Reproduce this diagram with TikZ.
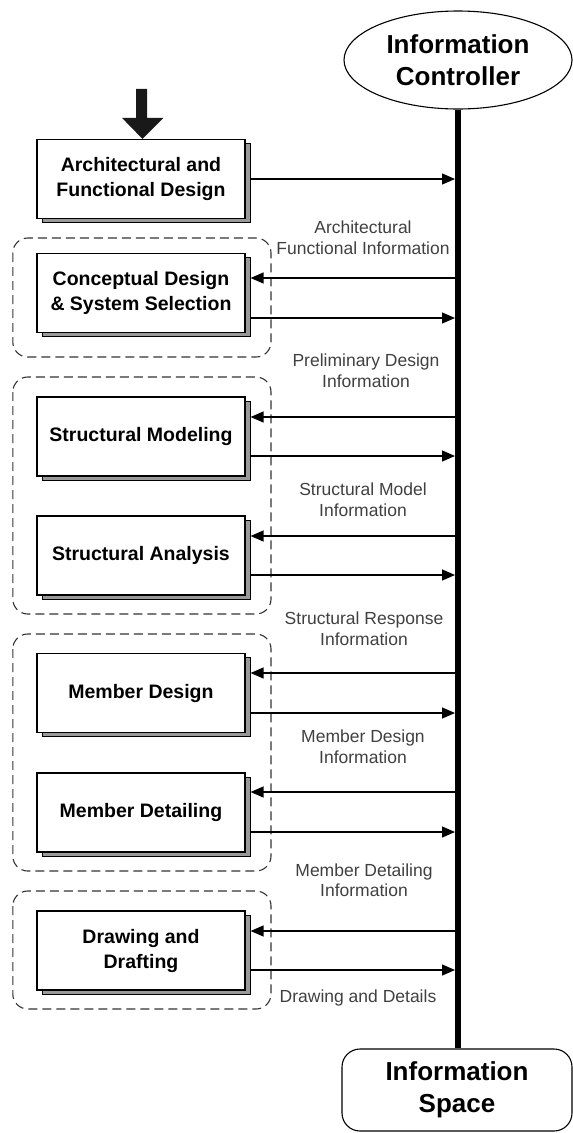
\documentclass[tikz,border=0pt]{standalone}
\usepackage{fontspec}
\setmainfont{Liberation Sans}
\usetikzlibrary{shapes.geometric,arrows.meta,shadows}

\tikzset{
  stepbox/.style={draw=black, line width=1.2pt, fill=white,
    minimum width=208pt, minimum height=79pt, inner sep=0pt, align=center,
    font=\bfseries\fontsize{19.5}{25}\selectfont,
    general shadow={shadow xshift=5pt, shadow yshift=-4pt,
      fill=black!40, draw=black, line width=1pt}},
  infolabel/.style={align=center, text=black!75, inner sep=0pt,
    font=\fontsize{17.5}{20.5}\selectfont},
  flow/.style={line width=1.3pt, -{Triangle[length=13pt,width=11pt]}},
  group/.style={draw=black!80, line width=1.1pt, rounded corners=15pt,
    dash pattern=on 9pt off 5pt},
  endpoint/.style={draw=black, line width=1.1pt, align=center, inner sep=0pt,
    font=\bfseries\fontsize{26}{32}\selectfont}
}

\begin{document}
\begin{tikzpicture}[x=1pt,y=-1pt]
\useasboundingbox (0,0) rectangle (573,1133);

% controller, store and the information bus between them
\node[endpoint, ellipse, minimum width=228pt, minimum height=98pt] (ic) at (458,60)
  {Information\\Controller};
\node[endpoint, rounded corners=18pt, minimum width=230pt, minimum height=82pt] (is) at (457,1090)
  {Information\\Space};
\draw[line width=6pt] (ic.south) -- (ic.south |- is.north);
\coordinate (bus) at (455,0);

% dashed groups of related tasks
\draw[group] (12.8,238) rectangle (271,357);
\draw[group] (12.8,377) rectangle (271,614);
\draw[group] (12.8,634) rectangle (271,871);
\draw[group] (12.8,891) rectangle (271,1009);

% design tasks
\node[stepbox] (b1) at (141,179)   {Architectural and\\Functional Design};
\node[stepbox] (b2) at (141,293)   {Conceptual Design\\\& System Selection};
\node[stepbox] (b3) at (141,436.5) {Structural Modeling};
\node[stepbox] (b4) at (141,555.5) {Structural Analysis};
\node[stepbox] (b5) at (141,693)   {Member Design};
\node[stepbox] (b6) at (141,812.5) {Member Detailing};
\node[stepbox] (b7) at (141,950.5) {Drawing and\\Drafting};

\foreach \i in {1,...,7} {\coordinate (b\i r) at ([xshift=5pt]b\i.east);}

% entry arrow
\fill[black!90] (b1.north) ++(1.5,0) -- ++(-20.5,-21) -- ++(14,0) -- ++(0,-29)
  -- ++(11,0) -- ++(0,29) -- ++(16.5,0) -- cycle;

% exchanges with the information bus
\draw[flow] (b1r |- 0,179) -- (bus |- 0,179);
\draw[flow] (bus |- 0,278) -- (b2r |- 0,278);
\draw[flow] (b2r |- 0,318) -- (bus |- 0,318);
\draw[flow] (bus |- 0,417) -- (b3r |- 0,417);
\draw[flow] (b3r |- 0,456) -- (bus |- 0,456);
\draw[flow] (bus |- 0,536) -- (b4r |- 0,536);
\draw[flow] (b4r |- 0,575) -- (bus |- 0,575);
\draw[flow] (bus |- 0,673) -- (b5r |- 0,673);
\draw[flow] (b5r |- 0,713) -- (bus |- 0,713);
\draw[flow] (bus |- 0,792) -- (b6r |- 0,792);
\draw[flow] (b6r |- 0,832) -- (bus |- 0,832);
\draw[flow] (bus |- 0,931) -- (b7r |- 0,931);
\draw[flow] (b7r |- 0,970) -- (bus |- 0,970);

% information passed along
\node[infolabel] (l1) at (363,237.5) {Architectural\\Functional Information};
\node[infolabel] (l2) at (366,370.5) {Preliminary Design\\Information};
\node[infolabel] (l3) at (363,499.5) {Structural Model\\Information};
\node[infolabel] (l4) at (364,628.5) {Structural Response\\Information};
\node[infolabel] (l5) at (363,746.5) {Member Design\\Information};
\node[infolabel] (l6) at (364,880)   {Member Detailing\\Information};
\node[infolabel] (l7) at (358,998)   {Drawing and Details};
\end{tikzpicture}
\end{document}
